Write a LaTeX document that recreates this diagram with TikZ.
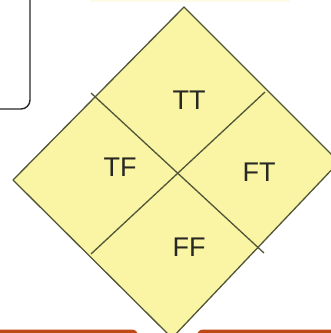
\documentclass[tikz,border=0pt]{standalone}
\usepackage{fontspec}
\setmainfont{Liberation Sans}
\definecolor{cellfill}{RGB}{250,245,165}
\definecolor{cellline}{RGB}{80,85,55}
\definecolor{txt}{RGB}{40,40,35}
\definecolor{barorange}{RGB}{190,72,22}
\definecolor{boxline}{RGB}{40,40,40}
\begin{document}
\begin{tikzpicture}[x=1pt,y=-1pt,
  cell/.style={draw=cellline,line width=1.3pt,fill=cellfill,line join=round},
  divider/.style={draw=cellline,line width=1.3pt},
  lbl/.style={text=txt,font=\fontsize{27}{27}\selectfont,inner sep=0pt}]
\useasboundingbox (0,0) rectangle (331,333);
\begin{scope}
\clip (0,0) rectangle (331,333);
% faint remnant at top
\fill[cellfill!25] (90,0) rectangle (290,1.5);
% top-left rounded box
\draw[boxline,line width=1.4pt,rounded corners=9pt] (-20,-20) -- (30,-20) -- (30,109) -- (-20,109);
% diamond
\coordinate (T) at (184,7);
\coordinate (L) at (13,180);
\coordinate (R) at (339,162);
\coordinate (B) at (172,338);
\path[cell] (T) -- (R) -- (B) -- (L) -- cycle;
\coordinate (m1) at (91,93);
\coordinate (m2) at (264,253);
\coordinate (m3) at (265,92);
\coordinate (m4) at (91,254);
\draw[divider] (m1) -- (m2);
\draw[divider] (m3) -- (m4);
\node[lbl] (tt) at (189,100) {TT};
\node[lbl] (tf) at (120,167) {TF};
\node[lbl] (ft) at (259,172) {FT};
\node[lbl] (ff) at (189,247) {FF};
% orange bars at bottom
\fill[barorange,rounded corners=6pt] (-20,329.5) rectangle (138,360);
\fill[barorange,rounded corners=6pt] (197,329.5) rectangle (360,360);
\end{scope}
\end{tikzpicture}
\end{document}
